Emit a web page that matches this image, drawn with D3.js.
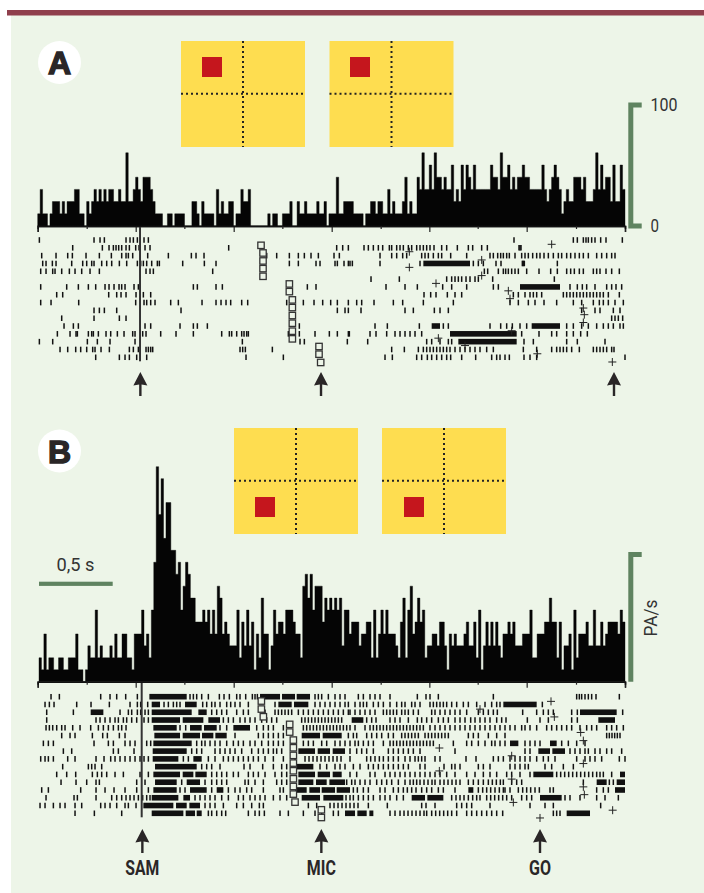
<!DOCTYPE html>
<html>
<head>
<meta charset="utf-8">
<script src="https://cdn.jsdelivr.net/npm/d3@7"></script>
<style>
  html, body { margin: 0; padding: 0; background: #fff; }
  svg { display: block; }
</style>
</head>
<body>
<div id="chart"></div>
<script>
// histogram counts, one value per bin
var histA = [
  1,3,1,1,0,1,2,2,2,1, 2,1,2,2,2,3,3,1,1,0, 2,1,2,3,2,3,2,3,2,3, 3,2,2,3,2,2,6,2,2,3,
  4,3,2,4,4,4,3,2,1,1, 1,0,0,1,1,0,1,1,1,1, 0,0,0,2,2,1,0,2,1,1, 1,1,0,3,1,2,1,1,2,2,
  0,1,1,3,2,2,3,0,0,0, 0,0,0,0,1,0,1,1,0,0, 1,1,1,2,0,0,2,1,1,2, 1,1,1,1,2,1,1,2,0,1,
  1,1,4,1,1,2,2,2,2,1, 1,1,1,0,1,1,2,2,1,2, 2,1,1,3,1,2,1,1,1,2, 4,1,2,1,1,4,3,6,3,3,
  5,3,6,4,4,3,4,3,3,5, 2,3,2,5,3,5,4,3,5,3, 3,3,3,3,3,5,4,4,3,6, 4,4,5,3,4,3,4,4,5,4,
  4,3,3,3,3,3,5,3,2,3, 4,5,4,3,1,2,3,2,2,4, 4,4,3,4,2,2,2,3,6,3, 5,3,4,4,2,5,2,2,5,3
];
var histB = [
  2,1,4,1,2,2,1,1,2,2, 1,1,2,2,2,4,1,1,0,1, 3,2,2,6,2,3,2,2,2,3, 2,4,2,2,4,4,2,2,1,4,
  4,4,6,3,4,2,6,10,18,14, 17,12,15,15,11,11,9,10,6,8, 10,9,7,7,5,5,5,6,5,6, 4,6,4,8,7,4,5,4,3,3,
  3,6,2,5,3,6,3,5,1,4, 2,7,4,4,1,3,6,4,5,5, 4,6,6,6,5,4,4,2,8,9, 7,9,6,8,8,8,5,7,6,7,
  6,7,6,7,3,6,6,4,5,5, 5,3,4,4,5,5,2,6,2,4, 6,4,6,4,4,4,3,2,5,7, 2,6,8,4,5,7,5,6,2,3,
  3,4,4,3,5,5,3,1,4,3, 4,3,3,3,4,5,3,3,5,2, 6,1,3,5,3,5,3,5,3,2, 4,4,5,4,5,3,3,3,4,4,
  4,6,2,2,4,4,4,5,5,7, 5,5,2,5,1,3,3,4,1,6, 2,4,4,4,5,3,3,6,3,3, 5,3,4,5,5,5,5,4,6,5
];

var histTicks = [53,200,347,493,641,787,935,1082,1228,1373,1520,1668,1815];

// raster spikes, one list per trial
var spikesA = [
  [58,222,240,253,318,330,340,352,372,385,1482,1660,1672,1690,1698,1705,1715,1725,1742,1758,1807],
  [158,247,267,280,288,296,305,318,328,347,357,375,390,626,950,968,985,1032,1045,1060,1075,1088,1108,1115,1130,1140,1150,1165,1175,1190,1200,1210,1220,1230,1242,1265,1280,1312,1345,1358,1385,1402,1497,1500,1503],
  [65,108,143,157,198,238,274,305,318,325,338,383,445,514,528,552,740,770,808,835,853,873,895,942,958,1080,1115,1130,1148,1160,1205,1215,1225,1240,1255,1265,1292,1340,1410,1420,1433,1442,1450,1460,1468,1485,1505,1515,1525,1538,1550,1560,1572,1585,1600,1615,1625,1640,1652,1665,1678,1690,1705,1730,1745,1760,1775,1785],
  [68,78,97,108,155,188,200,215,222,245,260,275,298,320,352,362,370,380,395,412,418,488,553,588,808,835,888,900,945,952,972,985,990,997,1080,1200,1360,1375,1390,1428,1443,1507,1510,1513,1612],
  [62,78,98,105,125,148,165,185,210,238,378,390,400,578,1393,1403,1435,1450,1457,1465,1475,1485,1495,1520,1557,1592,1612,1640,1652,1663,1678,1690,1720,1730,1740,1758,1775,1798],
  [1053,1138,1280,1295,1305,1315,1325,1338,1350,1365,1375,1418,1603],
  [62,140,175,205,227,255,267,282,297,305,315,342,355,520,532,588,607,862,888,1098,1155,1192,1268,1295,1340,1420,1435,1650,1672,1687,1700,1725,1760,1775,1788,1805],
  [110,128,266,290,303,318,348,370,392,1212,1232,1248,1282,1305,1325,1480,1495,1515,1530,1540,1550,1565,1630,1640,1650,1660,1670,1680,1690,1700,1710,1720,1730,1740,1750,1765,1798],
  [62,93,176,347,372,380,392,405,452,475,546,588,603,618,632,665,683,800,850,882,908,932,952,985,1010,1025,1062,1120,1148,1210,1300,1470,1495,1525,1545,1572,1610,1660,1685,1720,1738,1750,1765,1785,1810],
  [222,238,253,290,483,952,975,985,1023,1155,1180,1243,1260,1285,1685,1725,1740,1780,1800],
  [125,222,298,318,1775,1785,1795,1808],
  [132,160,175,375,392,480,520,532,562,838,1065,1102,1198,1270,1285,1410,1442,1460,1477,1500,1520,1640,1660,1685,1705,1730,1750,1765,1780,1800,1810],
  [112,150,168,172,205,215,220,235,258,272,292,312,338,345,368,378,422,468,520,605,628,635,650,665,672,680,685,805,838,885,928,952,985,988,1050,1068,1100,1125,1140,1155,1170,1185,1205,1505,1557,1595,1610,1640,1660,1682,1702],
  [58,98,202,232,270,345,667,840,853,982,1043,1220,1235,1260,1285,1295,1512,1540,1640,1672,1755],
  [120,143,167,182,200,218,225,243,268,328,340,355,378,385,392,398,660,668,676,757,1115,1153,1195,1210,1220,1230,1240,1250,1260,1270,1280,1290,1305,1320,1335,1350,1365,1380,1400,1420,1510,1550,1595,1610,1620,1630,1640,1655,1678,1720,1730,1740,1750,1760,1775,1782],
  [227,298,315,328,350,380,678,790,1095,1117,1190,1205,1222,1235,1250,1265,1280,1292,1325,1367,1415,1430,1440,1455,1468,1512,1530,1550,1815]
];
// stretches where the spikes merge, one list per trial
var burstsA = [
  [], [], [], [[1210,1350]], [], [], [[1500,1620]], [], [], [], [],
  [[1235,1260],[1535,1620]], [[1290,1490]], [[1315,1490]], [], []
];
var plusA = [
  [1595,0.55],[1168,1.5],[1168,3.5],[1385,2.55],[1385,4.55],[1248,5.55],[1465,6.5],[1470,7.5],
  [1690,8.7],[1693,9.55],[1690,10.55],[1475,11.6],[1255,12.55],[1335,13.5],[1552,14.55],[1777,15.6]
];
var squaresA = [
  [723,0.68],[729,1.66],[729,2.68],[729,3.66],[729,4.64],[808,5.62],[808,6.6],[817,7.66],
  [817,8.64],[817,9.66],[817,10.64],[817,11.66],[817,12.64],[897,13.62],[897,14.6],[902,15.66]
];

var spikesB = [
  [93,118,242,270,290,317,352,510,520,530,545,565,598,612,628,650,660,677,697,705,712,885,895,905,925,945,960,975,1015,1030,1050,1065,1080,1110,1192,1218,1230,1255,1420,1670,1678,1685,1695,1705,1715,1728,1798],
  [75,88,102,170,213,268,330,352,362,383,432,445,460,470,480,548,560,575,585,600,620,632,645,660,685,765,885,900,915,930,945,960,975,985,1005,1020,1030,1040,1060,1075,1090,1110,1130,1145,1155,1175,1185,1200,1230,1240,1250,1260,1270,1280,1295,1310,1330,1345,1370,1395,1415,1430,1440,1567],
  [80,160,300,325,335,352,362,375,385,575,590,605,620,650,670,685,735,765,775,785,795,805,815,835,850,865,880,895,910,925,940,955,970,985,990,1005,1020,1035,1050,1065,1090,1100,1110,1120,1130,1145,1155,1165,1180,1195,1235,1245,1260,1275,1290,1305,1320,1340,1375,1390,1405,1420,1432,1508,1550,1570,1585,1600,1655,1672,1808],
  [80,228,240,255,270,285,295,310,320,335,350,372,385,610,625,640,660,675,690,705,725,740,755,770,845,855,865,875,885,895,905,915,925,935,945,955,965,1040,1055,1068,1110,1125,1140,1165,1192,1205,1220,1235,1255,1270,1285,1305,1320,1335,1352,1365,1380,1395,1410,1430,1445,1458,1522,1560,1585,1655,1672],
  [78,88,98,110,125,135,158,180,212,235,250,265,280,295,305,318,480,497,600,620,710,730,745,760,790,850,860,870,880,890,900,910,920,930,940,950,960,970,980,990,1005,1035,1050,1060,1070,1080,1090,1100,1110,1120,1130,1140,1150,1160,1170,1180,1190,1200,1210,1230,1245,1260,1275,1290,1305,1320,1335,1350,1365,1380,1395,1410,1425,1440,1455,1470,1485,1505,1515,1530,1550,1580,1595,1610,1625,1640,1655,1680,1700,1715,1730,1760,1775,1790,1810],
  [125,150,165,217,248,262,298,315,645,715,730,745,760,775,790,985,1000,1010,1040,1055,1070,1085,1105,1120,1145,1155,1165,1175,1185,1195,1215,1225,1235,1245,1255,1265,1275,1285,1345,1360,1375,1405,1430,1455,1760,1768,1776,1784,1792,1800],
  [70,85,100,222,265,280,315,330,345,380,392,530,545,555,570,585,600,620,640,655,670,690,705,725,745,760,775,790,850,865,880,905,920,945,960,975,990,1005,1015,1030,1045,1060,1090,1110,1120,1130,1140,1150,1160,1170,1180,1190,1200,1210,1220,1230,1240,1300,1340,1355,1375,1395,1415,1425,1440,1455,1515,1530,1545,1560,1625,1645,1670,1695],
  [130,155,280,295,342,515,530,545,585,600,615,630,645,665,695,715,730,745,760,770,785,990,1010,1025,1040,1060,1105,1120,1135,1150,1165,1180,1200,1305,1515,1530,1650,1665,1680,1695,1705,1725,1740,1760,1775,1805],
  [62,75,85,100,143,165,228,252,272,285,300,315,330,345,360,372,385,490,505,565,585,610,625,640,655,670,685,700,715,735,760,790,825,855,867,879,891,903,915,927,939,951,963,990,1040,1052,1065,1078,1090,1105,1120,1135,1155,1170,1185,1195,1205,1215,1245,1260,1338,1368,1420,1435,1450,1470,1485,1500,1515,1530,1550,1570,1585,1605,1670,1695,1710,1725,1745,1798,1815],
  [128,205,215,225,245,545,560,575,600,672,690,728,760,785,800,900,920,945,960,975,1000,1020,1045,1060,1075,1090,1105,1120,1135,1150,1165,1200,1215,1272,1295,1305,1320,1375,1390,1410,1470,1485,1500,1515,1525,1575,1595,1630,1660],
  [110,140,167,217,232,245,260,285,310,360,385,575,590,605,620,640,655,685,700,715,735,765,785,800,990,1010,1050,1065,1095,1110,1125,1140,1155,1170,1185,1200,1215,1230,1245,1260,1280,1305,1340,1365,1390,1410,1430,1460,1475,1500,1530,1610,1622,1634,1646,1658,1670,1682,1694,1706,1718,1730,1740,1750,1775],
  [123,168,200,228,238,350,375,485,555,575,590,605,620,675,685,705,730,770,785,800,980,995,1005,1020,1035,1050,1070,1085,1100,1115,1135,1155,1170,1180,1190,1200,1212,1224,1236,1245,1260,1272,1284,1296,1308,1320,1345,1360,1375,1390,1405,1417,1429,1441,1450,1475,1490,1505,1690,1768,1780],
  [65,85,182,228,255,282,315,350,385,480,495,575,625,645,660,680,695,730,780,790,1000,1012,1030,1045,1080,1095,1120,1135,1150,1162,1175,1188,1205,1220,1235,1255,1270,1305,1375,1388,1400,1412,1425,1438,1450,1455,1470,1495,1508,1520,1532,1545,1558,1590,1600,1730,1750,1765],
  [78,162,172,228,275,290,305,318,330,342,355,368,380,390,525,540,555,570,585,605,625,655,670,690,705,720,735,760,780,800,978,990,1000,1015,1030,1045,1060,1080,1095,1110,1130,1150,1295,1308,1320,1332,1345,1358,1370,1380,1400,1412,1424,1436,1448,1460,1475,1505,1520,1535,1635,1650,1680,1730,1755,1795],
  [60,75,100,120,135,165,185,242,255,270,290,315,325,348,555,570,585,610,650,670,695,718,730,865,890,930,942,954,966,978,990,1002,1014,1045,1102,1205,1218,1245,1310,1325,1340,1355,1410,1530,1575,1600,1742],
  [165,223,305,565,575,590,605,617,685,705,718,733,780,805,850,885,905,940,955,1110,1125,1140,1152,1164,1176,1188,1200,1212,1220,1235,1247,1259,1271,1283,1295,1310,1340,1355,1370,1385,1400,1415,1430,1448,1600,1610,1620]
];
var burstsB = [
  [[388,500],[720,780],[786,825],[830,870]],
  [[395,420],[495,530],[775,815],[822,865],[1450,1550]],
  [[212,250],[395,515],[535,560],[1680,1790]],
  [[395,480],[488,550],[565,600],[995,1030],[1735,1785]],
  [[400,470],[510,545],[552,590],[640,690]],
  [[403,480],[488,540],[546,580],[586,620],[845,900],[908,965]],
  [[400,515],[1470,1495],[1590,1610]],
  [[398,500],[835,885],[893,930],[938,975],[1555,1590],[1597,1635]],
  [[398,475],[520,545]],
  [[405,530],[830,880]],
  [[400,480],[488,520],[526,560],[835,885],[893,930],[938,965],[1540,1600],[1800,1815]],
  [[405,470],[500,540],[835,880],[888,920],[928,975],[1730,1760],[1790,1815]],
  [[400,470],[510,560],[590,610],[825,860],[868,900],[905,945],[950,990],[1345,1360],[1785,1815]],
  [[395,475],[490,510],[845,900],[910,970],[1175,1215],[1222,1270],[1560,1625]],
  [[370,460],[468,500],[508,540]],
  [[395,490],[497,525],[530,545],[975,1005],[1012,1040],[1048,1060],[1640,1710]]
];
var plusB = [
  [1593,0.6],[1380,1.6],[1603,2.6],[1682,4.6],[1690,5.65],[1258,6.6],[1475,7.6],[1690,8.6],
  [1258,9.55],[1475,10.6],[1690,11.6],[1693,12.6],[1480,13.6],[1778,14.6],[1560,15.6]
];
var squaresB = [
  [724,0.56],[724,1.59],[730,2.58],[809,3.56],[809,4.55],[820,5.58],[820,6.57],[820,7.55],
  [820,8.54],[820,9.53],[820,10.56],[820,11.55],[820,12.53],[825,13.56],[904,14.55],[904,15.54]
];

var alignA = 360, alignB = 365;
var arrowsA = [361, 903, 1782];
var arrowsB = [367, 904, 1560];
var eventLabels = ['SAM', 'MIC', 'GO'];
var scaleLabelsA = ['100', '0'];

var colors = {
  bar: '#8f3f4c', panel: '#edf5e8', yellow: '#fedd50', red: '#c5161d',
  green: '#5f8360', ink: '#2a2627', black: '#050505', text: '#333'
};
var labelFont = 'Roboto, sans-serif';

var svg = d3.select('#chart').append('svg').attr('width', 704).attr('height', 893);

svg.append('rect').attr('x', 11).attr('y', 15).attr('width', 693).attr('height', 878).attr('fill', colors.panel);
svg.append('rect').attr('x', 7).attr('y', 10).attr('width', 697).attr('height', 5.5).attr('fill', colors.bar);

var x = d3.scaleLinear().domain([53, 1815]).range([37.7, 625]);

function drawTarget(left, top, height, redX, redY, midY) {
    var g = svg.append('g');
    g.append('rect').attr('x', left).attr('y', top).attr('width', 124).attr('height', height).attr('fill', colors.yellow);
    g.append('rect').attr('x', redX).attr('y', redY).attr('width', 20).attr('height', 20).attr('fill', colors.red);
    g.append('line').attr('x1', left + 62).attr('x2', left + 62).attr('y1', top).attr('y2', top + height)
        .attr('stroke', '#222').attr('stroke-width', 2).attr('stroke-dasharray', '2 3');
    g.append('line').attr('x1', left).attr('x2', left + 124).attr('y1', midY).attr('y2', midY)
        .attr('stroke', '#222').attr('stroke-width', 2).attr('stroke-dasharray', '2 3');
}
drawTarget(181, 41, 106, 202, 57, 93.7);
drawTarget(329.5, 41, 106, 350, 57, 93.7);
drawTarget(234, 428, 106, 255, 497, 480.7);
drawTarget(382, 428, 106, 404, 497, 480.7);

function drawBadge(cy, letter) {
    svg.append('circle').attr('cx', 59.5).attr('cy', cy).attr('r', 21.5).attr('fill', '#fff');
    svg.append('text').attr('x', 59.5).attr('y', cy + 11.5).attr('text-anchor', 'middle')
        .attr('font-family', '"Liberation Sans", sans-serif').attr('font-weight', 'bold').attr('font-size', 32)
        .attr('stroke', colors.ink).attr('stroke-width', 1.4).attr('stroke-linejoin', 'miter')
        .attr('fill', colors.ink).text(letter);
}
drawBadge(62.5, 'A');
drawBadge(451, 'B');

function drawHistogram(values, left, base, top, maxCount, ticks) {
    var step = (625 - left) / values.length;
    var y = d3.scaleLinear().domain([0, maxCount]).range([base, top]);
    var g = svg.append('g');

    var area = d3.area()
        .x(function(d, i) { return left + i * step; })
        .y0(base)
        .y1(function(d) { return y(d); })
        .curve(d3.curveStepAfter);

    g.append('path')
        .datum(values.concat(values[values.length - 1]))
        .attr('d', area)
        .attr('fill', colors.black)
        .attr('stroke', colors.black)
        .attr('stroke-width', 0.4);

    // long ticks on every second mark
    var major = d3.axisBottom(x).tickValues(ticks.filter(function(d, i) { return i % 2 == 0; })).tickSize(6).tickFormat('');
    var minor = d3.axisBottom(x).tickValues(ticks.filter(function(d, i) { return i % 2 == 1; })).tickSize(3).tickFormat('');
    [major, minor].forEach(function(axis) {
        var a = g.append('g').attr('transform', 'translate(0,' + base + ')').call(axis);
        a.selectAll('line').attr('stroke', '#222').attr('stroke-width', 1.2);
        a.select('.domain').attr('stroke', '#111').attr('stroke-width', 1.5);
    });
}
drawHistogram(histA, 37.7, 226, 104, 10, histTicks);
drawHistogram(histB, 39, 681.7, 466.7, 18, histTicks);

function drawRaster(spikes, bursts, plus, squares, alignTime, top, bottom, lineTop) {
    var row = d3.scaleLinear().domain([0, 15]).range([top, bottom]);
    var g = svg.append('g');

    spikes.forEach(function(times, r) {
        g.selectAll('.spike' + r)
            .data(times)
            .enter()
                .append('line')
                .attr('x1', function(d) { return x(d); })
                .attr('x2', function(d) { return x(d); })
                .attr('y1', row(r) - 2.8)
                .attr('y2', row(r) + 2.8)
                .attr('stroke', '#111')
                .attr('stroke-width', 1.5);
    });
    bursts.forEach(function(runs, r) {
        g.selectAll('.burst' + r)
            .data(runs)
            .enter()
                .append('rect')
                .attr('x', function(d) { return x(d[0]); })
                .attr('width', function(d) { return x(d[1]) - x(d[0]); })
                .attr('y', row(r) - 2.8)
                .attr('height', 5.6)
                .attr('fill', '#111');
    });

    g.append('line')
        .attr('x1', x(alignTime)).attr('x2', x(alignTime))
        .attr('y1', lineTop).attr('y2', row(15) + 4)
        .attr('stroke', '#333').attr('stroke-width', 2);

    g.selectAll('.fixbox')
        .data(squares)
        .enter()
            .append('rect')
            .attr('class', 'fixbox')
            .attr('x', function(d) { return x(d[0]) - 3.2; })
            .attr('y', function(d) { return row(d[1]) - 3.2; })
            .attr('width', 6.4)
            .attr('height', 6.4)
            .attr('fill', colors.panel)
            .attr('stroke', '#333')
            .attr('stroke-width', 1.3);

    g.selectAll('.plus').data(plus).enter().append('path')
        .attr('class', 'plus')
        .attr('transform', function(d) { return 'translate(' + x(d[0]) + ',' + row(d[1]) + ')'; })
        .attr('d', 'M-4,0H4M0,-4V4')
        .attr('stroke', '#222')
        .attr('stroke-width', 1)
        .attr('fill', 'none');
}
drawRaster(spikesA, burstsA, plusA, squaresA, alignA, 240, 357.3, 227);
drawRaster(spikesB, burstsB, plusB, squaresB, alignB, 696.7, 813.3, 683);

function drawArrows(times, top) {
    svg.selectAll(null)
        .data(times)
        .enter()
            .append('path')
            .attr('transform', function(d) { return 'translate(' + x(d) + ',' + top + ')'; })
            .attr('d', 'M0,0L7,13.5L1.2,12.5V24H-1.2V12.5L-7,13.5Z')
            .attr('fill', colors.ink);
}
drawArrows(arrowsA, 372);
drawArrows(arrowsB, 829);

var eventWidths = [34, 29, 22];
svg.selectAll('.eventLabel')
    .data(eventLabels)
    .enter()
        .append('text')
        .attr('class', 'eventLabel')
        .attr('x', function(d, i) { return x(arrowsB[i]); })
        .attr('y', 875)
        .attr('text-anchor', 'middle')
        .attr('font-family', labelFont)
        .attr('font-weight', 'bold')
        .attr('font-size', 19.5)
        .attr('textLength', function(d, i) { return eventWidths[i]; })
        .attr('lengthAdjust', 'spacingAndGlyphs')
        .attr('fill', colors.ink)
        .text(function(d) { return d; });

function drawBracket(top, bottom, withFoot) {
    var d = 'M641.7,' + top + 'H630.8V' + bottom + (withFoot ? 'H641.7' : '');
    svg.append('path').attr('d', d).attr('fill', 'none').attr('stroke', colors.green).attr('stroke-width', 5);
}
drawBracket(105, 226, true);
drawBracket(554.5, 681.7, false);

svg.selectAll('.scaleLabel')
    .data(scaleLabelsA)
    .enter()
        .append('text')
        .attr('class', 'scaleLabel')
        .attr('x', 650.5)
        .attr('y', function(d, i) { return i == 0 ? 110.7 : 231.7; })
        .attr('font-family', labelFont)
        .attr('font-size', 18.7)
        .attr('textLength', function(d, i) { return i == 0 ? 27 : 8.5; })
        .attr('lengthAdjust', 'spacingAndGlyphs')
        .attr('fill', colors.text)
        .text(function(d) { return d; });

svg.append('text')
    .attr('transform', 'translate(656.5,618) rotate(-90)')
    .attr('text-anchor', 'middle')
    .attr('font-family', labelFont)
    .attr('font-size', 18.7)
    .attr('textLength', 37)
    .attr('lengthAdjust', 'spacingAndGlyphs')
    .attr('fill', colors.text)
    .text('PA/s');

svg.append('rect').attr('x', 39).attr('y', 581.7).attr('width', 73.7).attr('height', 4.2).attr('fill', colors.green);
svg.append('text')
    .attr('x', 75.5)
    .attr('y', 571)
    .attr('text-anchor', 'middle')
    .attr('font-family', labelFont)
    .attr('font-size', 18.7)
    .attr('textLength', 38)
    .attr('lengthAdjust', 'spacingAndGlyphs')
    .attr('fill', colors.text)
    .text('0,5 s');
</script>
</body>
</html>
